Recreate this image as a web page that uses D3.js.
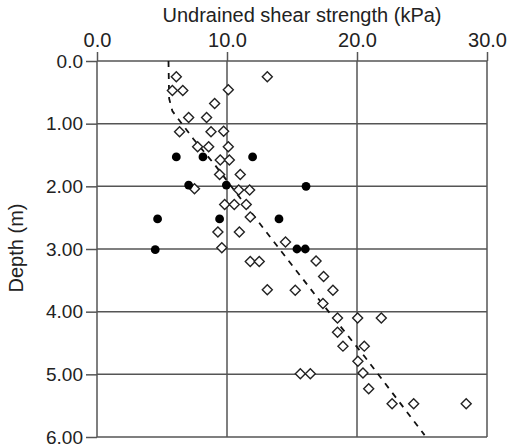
<!DOCTYPE html>
<html>
<head>
<meta charset="utf-8">
<script src="https://cdn.jsdelivr.net/npm/d3@7"></script>
<style>
  body { margin: 0; background: #fff; }
  svg { display: block; font-family: "Liberation Sans", Arial, sans-serif; }
</style>
</head>
<body>
<div id="chart"></div>
<script>
// shear strength (kPa) vs depth (m), open diamonds
const diamondStrength = [6.1, 13.1, 5.8, 6.6, 10.1, 9.05, 7.05, 8.43, 6.35, 8.77, 9.74, 7.74, 8.59, 10.1,
  9.48, 10.18, 9.43, 11.02, 7.5, 10.9, 11.74, 9.82, 10.56, 11.48, 11.79, 9.3, 10.95, 14.5, 9.6,
  11.79, 12.48, 16.85, 13.1, 17.43, 15.25, 18.15, 17.38, 18.5, 20.05, 21.87, 18.5, 18.92, 20.56,
  20.07, 15.64, 16.41, 20.46, 20.9, 22.7, 24.36, 28.4];
const diamondDepth = [0.25, 0.25, 0.47, 0.47, 0.46, 0.68, 0.9, 0.9, 1.13, 1.13, 1.12, 1.37, 1.37, 1.37,
  1.58, 1.58, 1.81, 1.81, 2.04, 2.06, 2.06, 2.29, 2.29, 2.29, 2.49, 2.73, 2.73, 2.89, 2.98,
  3.2, 3.2, 3.19, 3.65, 3.44, 3.66, 3.66, 3.87, 4.1, 4.1, 4.1, 4.33, 4.55, 4.55,
  4.79, 4.99, 4.99, 4.98, 5.23, 5.47, 5.47, 5.47];

// filled circles
const dotStrength = [6.1, 8.15, 11.97, 7.05, 9.95, 16.08, 4.66, 9.43, 14.0, 4.48, 15.38, 16.02];
const dotDepth = [1.53, 1.53, 1.53, 1.98, 1.98, 2.0, 2.52, 2.52, 2.52, 3.01, 3.0, 3.0];

// dashed trend line
const trendStrength = [5.5, 5.55, 5.8, 7.4, 9.0, 12.8, 16.7, 20.6, 25.2];
const trendDepth = [0.0, 0.6, 0.8, 1.24, 1.64, 2.67, 3.71, 4.72, 5.97];

const xTicks = [0, 10, 20, 30];
const yTicks = [0, 1, 2, 3, 4, 5, 6];

const width = 507, height = 448;
const margin = {top: 61, right: 20, bottom: 11, left: 97};
const innerW = 390, innerH = 376;

const svg = d3.select("#chart").append("svg")
  .attr("width", width)
  .attr("height", height);

const g = svg.append("g")
  .attr("transform", "translate(" + margin.left + "," + margin.top + ")");

const x = d3.scaleLinear().domain([0, 30]).range([0, innerW]);
const y = d3.scaleLinear().domain([0, 6]).range([0, innerH]);

const gridColor = "#555";

// grid
g.selectAll(".vgrid").data(xTicks).enter().append("line")
  .attr("x1", d => x(d)).attr("x2", d => x(d))
  .attr("y1", 0).attr("y2", innerH)
  .attr("stroke", gridColor).attr("stroke-width", 1.5);

g.selectAll(".hgrid").data(yTicks).enter().append("line")
  .attr("x1", 0).attr("x2", innerW)
  .attr("y1", d => y(d)).attr("y2", d => y(d))
  .attr("stroke", gridColor).attr("stroke-width", 1.5);

// axes
const topAxis = g.append("g")
  .call(d3.axisTop(x).tickValues(xTicks).tickFormat(d3.format(".1f")).tickSize(9).tickPadding(5));
const leftAxis = g.append("g")
  .call(d3.axisLeft(y).tickValues(yTicks)
    .tickFormat(d => d === 0 ? "0.0" : d3.format(".2f")(d)).tickSize(11).tickPadding(3));

[topAxis, leftAxis].forEach(a => {
  a.select(".domain").remove();
  a.selectAll("line").attr("stroke", gridColor).attr("stroke-width", 1.5);
  a.selectAll("text").attr("fill", "#222");
});
topAxis.selectAll("text").style("font-size", "20px");
leftAxis.selectAll("text").style("font-size", "19px");

svg.append("text")
  .attr("x", 302).attr("y", 22)
  .attr("text-anchor", "middle")
  .attr("fill", "#222")
  .style("font-size", "20px")
  .text("Undrained shear strength (kPa)");

svg.append("text")
  .attr("transform", "translate(23,248) rotate(-90)")
  .attr("text-anchor", "middle")
  .attr("fill", "#222")
  .style("font-size", "20px")
  .text("Depth (m)");

// trend line
const line = d3.line()
  .x(d => x(d[0]))
  .y(d => y(d[1]));

g.append("path")
  .datum(d3.zip(trendStrength, trendDepth))
  .attr("d", line)
  .attr("fill", "none")
  .attr("stroke", "#111")
  .attr("stroke-width", 1.8)
  .attr("stroke-dasharray", "6,6");

// open diamonds
g.selectAll(".diamond")
  .data(d3.zip(diamondStrength, diamondDepth))
  .enter().append("path")
  .attr("transform", d => "translate(" + x(d[0]) + "," + y(d[1]) + ")")
  .attr("d", "M0,-5L5,0L0,5L-5,0Z")
  .attr("fill", "#fff")
  .attr("stroke", "#222")
  .attr("stroke-width", 1.4);

// filled circles
g.selectAll(".dot")
  .data(d3.zip(dotStrength, dotDepth))
  .enter().append("circle")
  .attr("cx", d => x(d[0]))
  .attr("cy", d => y(d[1]))
  .attr("r", 4.4)
  .attr("fill", "#000");
</script>
</body>
</html>
